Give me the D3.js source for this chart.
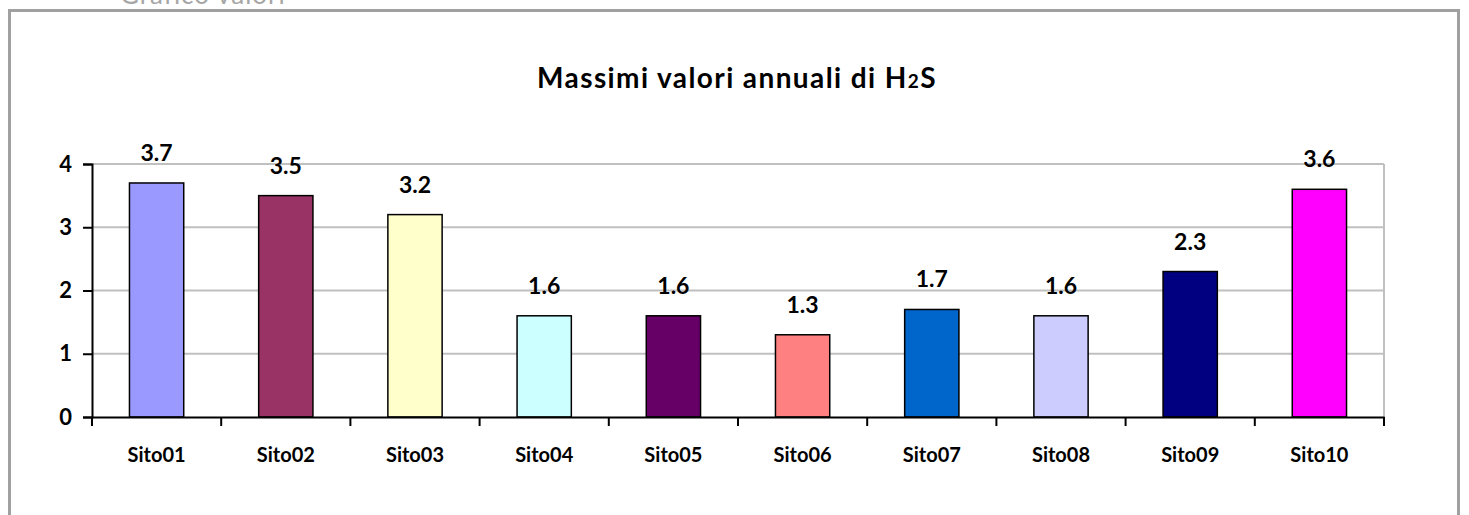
<!DOCTYPE html>
<html>
<head>
<meta charset="utf-8">
<script src="https://cdn.jsdelivr.net/npm/d3@7"></script>
<style>
  html, body { margin: 0; padding: 0; background: #fff; }
  svg { display: block; }
  text { font-family: Lato, "Open Sans", "Noto Sans", sans-serif; }
</style>
</head>
<body>
<script>
const categories = ["Sito01","Sito02","Sito03","Sito04","Sito05","Sito06","Sito07","Sito08","Sito09","Sito10"];
const values = [3.7, 3.5, 3.2, 1.6, 1.6, 1.3, 1.7, 1.6, 2.3, 3.6];
const barColors = ["#9999FF","#993366","#FFFFCC","#CCFFFF","#660066","#FF8080","#0066CC","#CCCCFF","#000080","#FF00FF"];
const yTicks = [0, 1, 2, 3, 4];

const W = 1469, H = 515;
const svg = d3.select("body").append("svg").attr("width", W).attr("height", H);

// outer frame
svg.append("path")
  .attr("d", `M9.5,${H} V10.5 H1458.5 V${H}`)
  .attr("fill", "none").attr("stroke", "#a0a0a0").attr("stroke-width", 3);

// caption partly above the page (as in the reference)
svg.append("text").attr("x", 120).attr("y", 4)
  .attr("fill", "#a6a6a6").attr("font-size", 26).attr("letter-spacing", 1).text("Grafico valori");

const m = { left: 92, right: 1384, top: 164, bottom: 417 };
const x = d3.scaleBand().domain(categories).range([m.left, m.right]).paddingInner(0.58).paddingOuter(0.29);
const xTickScale = d3.scaleBand().domain(categories).range([m.left, m.right]);
const y = d3.scaleLinear().domain([0, 4]).range([m.bottom, m.top]);

// title
const title = svg.append("text").attr("x", 737).attr("y", 88)
  .attr("text-anchor", "middle").attr("font-size", 28).attr("font-weight", "bold")
  .attr("letter-spacing", 1.4).attr("fill", "#000");
title.append("tspan").text("Massimi valori annuali di H");
title.append("tspan").attr("font-size", 19).text("2");
title.append("tspan").text("S");

// gridlines
svg.append("g").selectAll("line").data(yTicks.filter(d => d > 0)).join("line")
  .attr("x1", m.left).attr("x2", m.right)
  .attr("y1", d => y(d)).attr("y2", d => y(d))
  .attr("stroke", "#c0c0c0").attr("stroke-width", 2);
// right plot edge
svg.append("line").attr("x1", m.right).attr("x2", m.right).attr("y1", m.top).attr("y2", m.bottom)
  .attr("stroke", "#c0c0c0").attr("stroke-width", 2);

// bars
svg.append("g").selectAll("rect").data(values).join("rect")
  .attr("x", (d, i) => x(categories[i]))
  .attr("width", x.bandwidth())
  .attr("y", d => y(d))
  .attr("height", d => y(0) - y(d))
  .attr("fill", (d, i) => barColors[i])
  .attr("stroke", "#000").attr("stroke-width", 1.5);

// value labels
svg.append("g").selectAll("text").data(values).join("text")
  .attr("x", (d, i) => x(categories[i]) + x.bandwidth() / 2)
  .attr("y", d => y(d) - 22)
  .attr("text-anchor", "middle").attr("font-size", 23).attr("font-weight", "bold")
  .text(d => d.toFixed(1));

// y axis
const yAxis = svg.append("g").attr("transform", `translate(${m.left},0)`)
  .call(d3.axisLeft(y).tickValues(yTicks).tickSize(9).tickPadding(11).tickFormat(d3.format("d")));
yAxis.select(".domain").attr("stroke", "#000").attr("stroke-width", 2);
yAxis.selectAll(".tick line").attr("stroke", "#000").attr("stroke-width", 2);
yAxis.selectAll(".tick text").attr("font-size", 22).attr("font-weight", "bold").attr("fill", "#000")
  .attr("font-family", "Lato, sans-serif");

// x axis
const xAxis = svg.append("g").attr("transform", `translate(0,${m.bottom})`)
  .call(d3.axisBottom(x).tickSize(0).tickPadding(31).tickSizeOuter(0));
xAxis.select(".domain").attr("stroke", "#000").attr("stroke-width", 2);
xAxis.selectAll(".tick text").attr("font-size", 20).attr("font-weight", "bold").attr("fill", "#000")
  .attr("font-family", "Lato, sans-serif");
// category boundary ticks
const bounds = categories.map(c => xTickScale(c)).concat([m.right]);
svg.append("g").selectAll("line").data(bounds).join("line")
  .attr("x1", d => d).attr("x2", d => d)
  .attr("y1", m.bottom).attr("y2", m.bottom + 9)
  .attr("stroke", "#000").attr("stroke-width", 2);
</script>
</body>
</html>
